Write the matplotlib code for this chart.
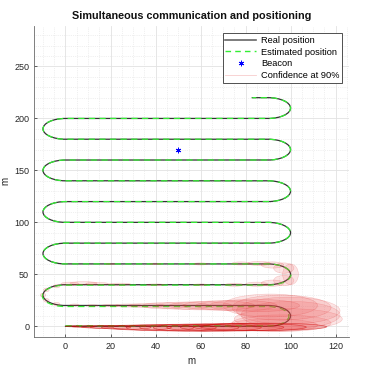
import matplotlib
matplotlib.use("Agg")
import matplotlib.pyplot as plt
from matplotlib.path import Path
from matplotlib.transforms import Affine2D
from matplotlib.patches import Ellipse
from matplotlib.lines import Line2D

plt.rcParams["font.family"] = ["Liberation Sans", "DejaVu Sans"]

# lawnmower track: lane heights, lane ends (m)
lane_y = [0, 20, 40, 60, 80, 100, 120, 140, 160, 180, 200, 220]
est_lane_y = [0.5, 19, 39.6, 60, 80, 100, 120, 140, 160, 180, 200, 220]
lane_left = 0
lane_right = 90
last_x = 83

beacon_x = [50]
beacon_y = [170]

# 90% confidence ellipses along the first lane (dense, dark band)
first_x = [3, 8, 14, 20, 27, 34, 42, 50, 58, 66, 74, 82, 88]
first_y = [0, -0.3, -0.5, -0.8, -1, -1.2, -1.3, -1.3, -1.3, -1.2, -1, -0.8, -0.5]
first_w = [6, 10, 14, 18, 22, 26, 30, 34, 38, 42, 46, 50, 56]
first_h = [1, 1.5, 2.5, 3, 4, 5, 6, 6.5, 7, 7, 7, 7, 7]

# the rest of the 90% confidence ellipses (centre, full width, full height)
conf_x = [92, 96, 99, 100, 99, 96, 91,
          84, 76, 68, 60, 52, 44, 36, 28, 20, 12,
          4, -4, -8.5, -10, -8.5, -4, 2, 8, 14, 24, 40, 60,
          75, 85, 92, 97, 100, 97, 92, 86, 78, 60, 40, 20]
conf_y = [1, 3, 7, 11, 15, 18, 20,
          20, 20, 20, 19.8, 19.8, 19.8, 20, 20, 20, 20,
          20.5, 21.5, 25, 30, 35, 38.5, 41, 41.5, 41, 40.5, 40, 40,
          40, 40.5, 41.5, 44, 50, 56, 59, 60.5, 60.5, 60, 60, 60]
conf_w = [40, 44, 48, 44, 46, 44, 42,
          40, 36, 32, 28, 24, 20, 16, 12, 8, 5,
          4, 3, 2.5, 2.5, 2.5, 3, 8, 12, 10, 10, 8, 6,
          8, 10, 10, 9, 7, 9, 10, 10, 8, 6, 5, 4]
conf_h = [12, 16, 20, 26, 26, 24, 22,
          12, 10, 9, 8, 7, 6, 4, 3, 2, 1.5,
          2, 3, 3.5, 3.5, 3.5, 3, 3, 3, 2.5, 2, 1.5, 1.5,
          3, 4, 6, 10, 20, 10, 6, 4, 3, 2, 1.5, 1]


def lawnmower(ys, x_end):
    verts = [(lane_left, ys[0]), (lane_right, ys[0])]
    codes = [Path.MOVETO, Path.LINETO]
    for i in range(len(ys) - 1):
        r = (ys[i + 1] - ys[i]) / 2
        going_right = i % 2 == 0
        cx = lane_right if going_right else lane_left
        sx = r if going_right else -r
        arc = Path.arc(-90, 90).transformed(
            Affine2D().scale(sx, r).translate(cx, ys[i] + r))
        verts += [tuple(v) for v in arc.vertices[1:]]
        codes += list(arc.codes[1:])
        nx = lane_left if going_right else lane_right
        if i == len(ys) - 2:
            nx = x_end
        verts.append((nx, ys[i + 1]))
        codes.append(Path.LINETO)
    return Path(verts, codes).to_polygons(closed_only=False)[0]


fig = plt.figure(figsize=(3.88, 3.71), dpi=100)
ax = fig.add_axes([0.0876, 0.0925, 0.812, 0.8375])

real = lawnmower(lane_y, last_x)
est = lawnmower(est_lane_y, last_x)
ax.plot(real[:, 0], real[:, 1], color="#333333", lw=0.9, zorder=3)
ax.plot(est[:, 0], est[:, 1], color="#33ee33", lw=0.9, ls=(0, (5, 3.5)), zorder=3)

for cx, cy, w, h in zip(conf_x, conf_y, conf_w, conf_h):
    ax.add_patch(Ellipse((cx, cy), w, h, facecolor=(0.93, 0.3, 0.3, 0.14),
                         edgecolor=(0.85, 0.05, 0.05, 0.2), lw=0.4, zorder=4))
for cx, cy, w, h in zip(first_x, first_y, first_w, first_h):
    ax.add_patch(Ellipse((cx, cy), w, h, facecolor=(0.9, 0.1, 0.1, 0.12),
                         edgecolor=(0.8, 0.0, 0.0, 0.55), lw=0.5, zorder=4))

ax.plot(beacon_x, beacon_y, ls="none", marker=(6, 2, 0), ms=4, mew=0.6,
        color="blue", zorder=5)

ax.set_xlim(-14, 126)
ax.set_ylim(-10, 289)
ax.set_xticks(range(0, 121, 20))
ax.set_yticks(range(0, 251, 50))
ax.set_xticks(range(-10, 126, 5), minor=True)
ax.set_yticks(range(-10, 290, 10), minor=True)
ax.grid(True, which="major", color="#e2e2e2", lw=0.6)
ax.grid(True, which="minor", color="#e2e2e2", lw=0.5, ls=":")
ax.set_axisbelow(True)
ax.tick_params(which="both", direction="in", labelsize=6.5, colors="#262626",
               length=2.5, width=0.5)
ax.tick_params(which="minor", length=0)
for s in ["top", "right"]:
    ax.spines[s].set_visible(False)
for s in ["left", "bottom"]:
    ax.spines[s].set_color("#6a6a6a")
    ax.spines[s].set_linewidth(0.6)

ax.set_title("Simultaneous communication and positioning", fontsize=7.8,
             fontweight="bold", color="#111111", pad=5)
ax.set_xlabel("m", fontsize=7, color="#262626", labelpad=4)
ax.set_ylabel("m", fontsize=7, color="#262626", labelpad=3)

handles = [
    Line2D([], [], color="#666666", lw=1.2),
    Line2D([], [], color="#33ee33", lw=1, ls=(0, (4, 3))),
    Line2D([], [], ls="none", marker=(6, 2, 0), ms=4, mew=0.6, color="blue"),
    Line2D([], [], color=(0.85, 0, 0, 0.2), lw=0.6),
]
labels = ["Real position", "Estimated position", "Beacon", "Confidence at 90%"]
leg = ax.legend(handles, labels, loc="upper right", bbox_to_anchor=(0.978, 0.977),
                borderaxespad=0, fontsize=6.7, fancybox=False, framealpha=1,
                edgecolor="#333333", handlelength=3.3, handletextpad=0.5,
                labelspacing=0.3, borderpad=0.3)
leg.get_frame().set_linewidth(0.6)

fig.savefig("out.png", dpi=100)
